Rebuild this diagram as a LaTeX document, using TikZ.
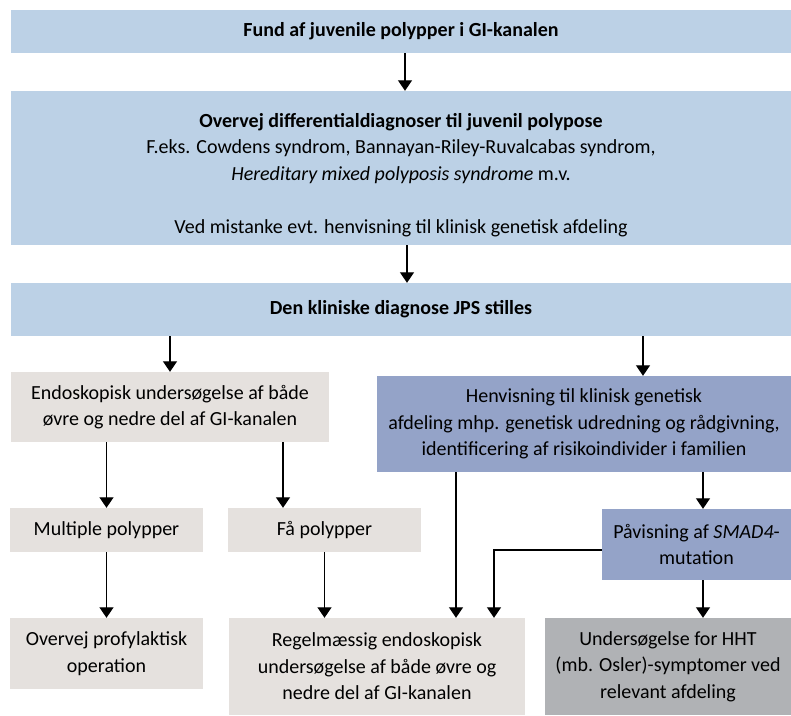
\documentclass[tikz,border=0pt]{standalone}
\usepackage{fontspec}
\setmainfont{Carlito}
\usetikzlibrary{arrows.meta,positioning}
\definecolor{jpBlueLt}{RGB}{188,209,230}
\definecolor{jpBlue}{RGB}{148,163,200}
\definecolor{jpGreyLt}{RGB}{229,225,222}
\definecolor{jpGrey}{RGB}{176,178,181}

\begin{document}
\begin{tikzpicture}[x=1pt,y=-1pt,font=\fontsize{20}{26.5}\selectfont,box/.style={inner sep=0pt,align=center},arr/.style={-{Triangle[width=14pt,length=10.5pt]},line width=1.2pt}]
    \useasboundingbox (0,0) rectangle (791,715);
    % Top row, full width
    \node[box,fill=jpBlueLt,minimum width=780pt,minimum height=43pt] at (401,31.5) (fund) {\textbf{Fund af juvenile polypper i GI-kanalen}};
    \node[box,fill=jpBlueLt,minimum width=780pt,minimum height=154pt] at (401,168) (differ) {\rule{0pt}{28pt}\textbf{Overvej differentialdiagnoser til juvenil polypose}\\F.eks. Cowdens syndrom, Bannayan-Riley-Ruvalcabas syndrom,\\\textit{Hereditary mixed polyposis syndrome} m.v.\\\mbox{}\\Ved mistanke evt. henvisning til klinisk genetisk afdeling};
    \node[box,fill=jpBlueLt,minimum width=780pt,minimum height=53pt] at (401,309.5) (diag) {\textbf{Den kliniske diagnose JPS stilles}};
    % Two branches
    \node[box,fill=jpGreyLt,minimum width=318pt,minimum height=70pt] at (170,407) (endo) {Endoskopisk undersøgelse af både\\øvre og nedre del af GI-kanalen};
    \node[box,fill=jpBlue,minimum width=414pt,minimum height=96pt] at (584,424) (henv) {Henvisning til klinisk genetisk\\afdeling mhp. genetisk udredning og rådgivning,\\identificering af risikoindivider i familien};
    \node[box,fill=jpGreyLt,minimum width=193pt,minimum height=44pt] at (106.5,530) (multi) {Multiple polypper};
    \node[box,fill=jpGreyLt,minimum width=193pt,minimum height=44pt] at (324.5,530) (faa) {Få polypper};
    \node[box,fill=jpBlue,minimum width=189pt,minimum height=71pt] at (696.5,544.5) (smad) {Påvisning af \textit{SMAD4}-\\mutation};
    % Bottom row
    \node[box,fill=jpGreyLt,minimum width=193pt,minimum height=71pt] at (106.5,653.5) (profyl) {Overvej profylaktisk\\operation};
    \node[box,fill=jpGreyLt,minimum width=296pt,minimum height=97pt] at (377,666.5) (regel) {Regelmæssig endoskopisk\\undersøgelse af både øvre og\\nedre del af GI-kanalen};
    \node[box,fill=jpGrey,minimum width=246pt,minimum height=97pt] at (668,666.5) (hht) {Undersøgelse for HHT\\(mb. Osler)-symptomer ved\\relevant afdeling};
    % Arrows
    \draw[arr] ([xshift=4pt]fund.south) -- ([xshift=4pt]differ.north);
    \draw[arr] ([xshift=6pt]differ.south) -- ([xshift=6pt]diag.north);
    \draw[arr] (diag.south -| endo.north) -- (endo.north);
    \draw[arr] ([xshift=59pt]henv.north |- diag.south) -- ([xshift=59pt]henv.north);
    \draw[arr] (endo.south -| multi.north) -- (multi.north);
    \draw[arr] ([xshift=-41.5pt]faa.north |- endo.south) -- ([xshift=-41.5pt]faa.north);
    \draw[arr] ([xshift=79pt]regel.north |- henv.south) -- ([xshift=79pt]regel.north);
    \draw[arr] (henv.south -| smad.north) ++(6.5,0) -- ([xshift=6.5pt]smad.north);
    \draw[arr] ([yshift=-5.5pt]smad.west) -| ([xshift=117pt]regel.north);
    \draw[arr] ([xshift=6.5pt]smad.south) -- ([xshift=6.5pt]smad.south |- hht.north);
    \draw[arr] (multi.south) -- (profyl.north);
    \draw[arr] (faa.south) -- (faa.south |- regel.north);
\end{tikzpicture}
\end{document}
